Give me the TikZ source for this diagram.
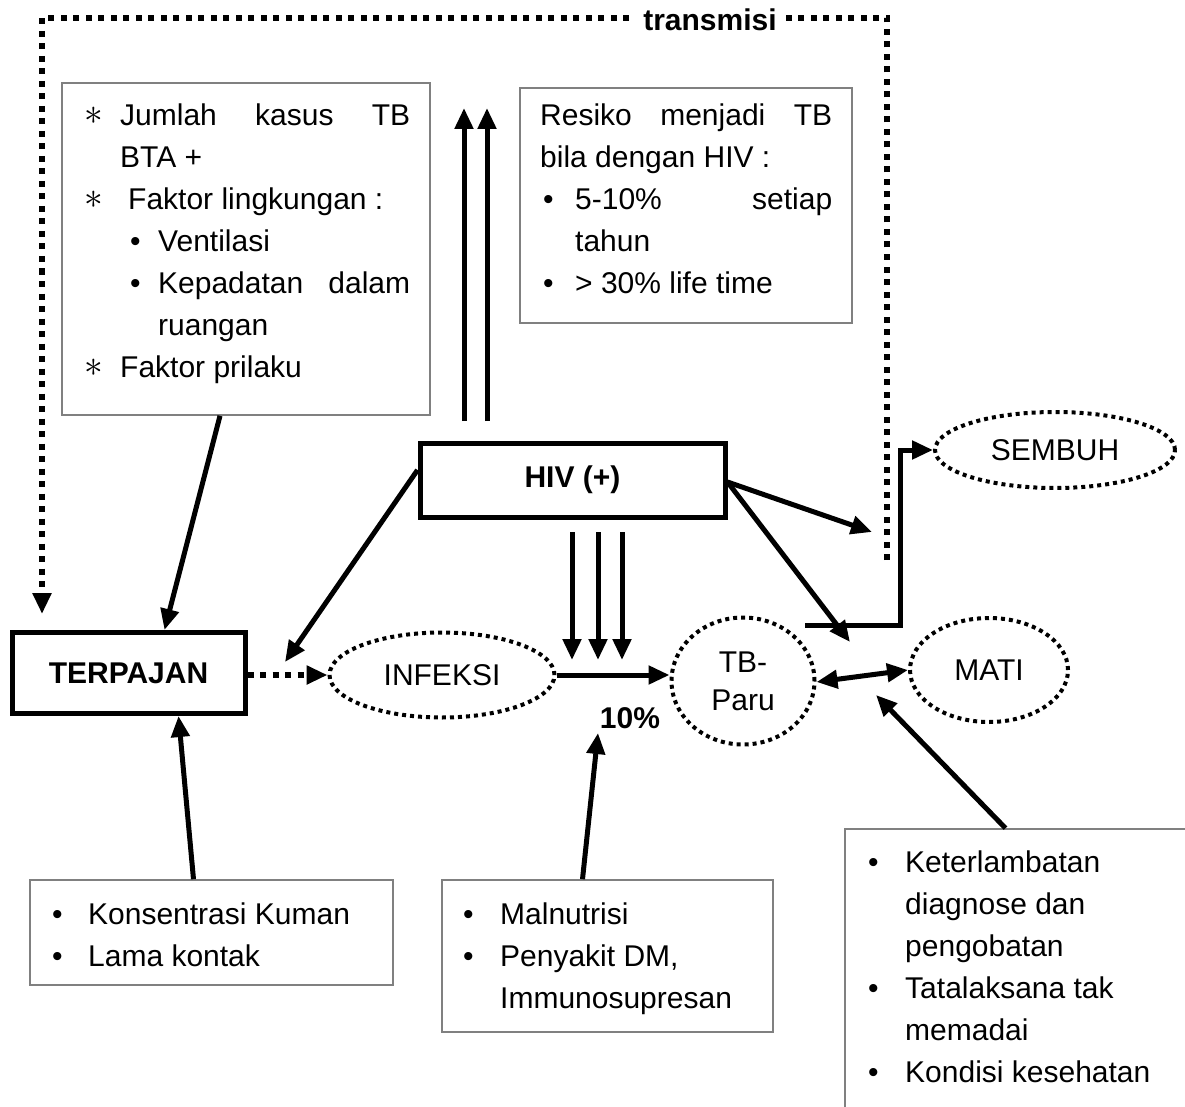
\documentclass[tikz,border=0pt]{standalone}
\usepackage{fontspec}
\setmainfont{Liberation Sans}
\usetikzlibrary{arrows.meta,shapes.geometric}

\newcommand{\astmark}{\raisebox{1pt}{\scalebox{1.5}{$\ast$}}}

\begin{document}
\begin{tikzpicture}[x=1pt,y=-1pt,
  every node/.style={font=\fontsize{30}{42}\selectfont, inner sep=0pt},
  infobox/.style={draw=black!50, line width=1.6pt},
  mainbox/.style={draw, line width=5pt},
  dotell/.style={ellipse, draw, line width=4pt, dash pattern=on 4pt off 4pt},
  txt/.style={anchor=north west, align=left},
  arr/.style={line width=5pt, -{Triangle[length=21pt,width=18pt]}},
  dblarr/.style={line width=5pt, {Triangle[length=21pt,width=18pt]}-{Triangle[length=21pt,width=18pt]}},
  dotarr/.style={line width=6pt, dash pattern=on 6pt off 6.5pt, -{Triangle[length=21pt,width=18pt]}}]
\useasboundingbox (0,0) rectangle (1185,1107);

\node[infobox, minimum width=368pt, minimum height=332pt] (faktor) at (246,249) {};
\node[txt] (faktortxt) at (84,96) {\strut\makebox[36pt][l]{\astmark}\makebox[290pt][s]{Jumlah kasus TB}\\
  \hspace*{36pt}BTA +\\
  \makebox[44pt][l]{\astmark}Faktor lingkungan :\\
  \hspace*{46pt}\makebox[28pt][l]{\textbullet}Ventilasi\\
  \hspace*{46pt}\makebox[28pt][l]{\textbullet}\makebox[252pt][s]{Kepadatan dalam}\\
  \hspace*{74pt}ruangan\\
  \makebox[36pt][l]{\astmark}Faktor prilaku};

\node[infobox, minimum width=332pt, minimum height=235pt] (resiko) at (686,205.5) {};
\node[txt] (resikotxt) at (540,96) {\strut\makebox[292pt][s]{Resiko menjadi TB}\\
  bila dengan HIV :\\
  \makebox[35pt][l]{\hspace*{3pt}\textbullet}\makebox[257pt][s]{5-10\% setiap}\\
  \hspace*{35pt}tahun\\
  \makebox[35pt][l]{\hspace*{3pt}\textbullet}> 30\% life time};

\node[mainbox, minimum width=305pt, minimum height=74pt] (hiv) at (572.5,480) {\textbf{HIV (+)}};
\node[mainbox, minimum width=233pt, minimum height=81pt] (terpajan) at (128.5,673) {\textbf{TERPAJAN}};
\node[dotell, minimum width=225pt, minimum height=85pt] (infeksi) at (442,675) {INFEKSI};
\node[dotell, minimum width=143pt, minimum height=127pt, align=center] (tbparu) at (743,681) {TB-\\[-4pt]Paru};
\node[dotell, minimum width=158pt, minimum height=104pt] (mati) at (989,670) {MATI};
\node[dotell, minimum width=240pt, minimum height=76pt] (sembuh) at (1055,450) {SEMBUH};
\node (pct) at (630,718) {\textbf{10\%}};

\node[infobox, minimum width=363pt, minimum height=105pt] (kuman) at (211.5,932.5) {};
\node[txt] (kumantxt) at (52,895) {\strut\makebox[36pt][l]{\textbullet}Konsentrasi Kuman\\
  \makebox[36pt][l]{\textbullet}Lama kontak};

\node[infobox, minimum width=331pt, minimum height=152pt] (gizi) at (607.5,956) {};
\node[txt] (gizitxt) at (463,895) {\strut\makebox[37pt][l]{\textbullet}Malnutrisi\\
  \makebox[37pt][l]{\textbullet}Penyakit DM,\\
  \hspace*{37pt}Immunosupresan};

\node[infobox, minimum width=355pt, minimum height=291pt] (lambat) at (1022.5,974.5) {};
\node[txt] (lambattxt) at (868,843) {\strut\makebox[37pt][l]{\textbullet}Keterlambatan\\
  \hspace*{37pt}diagnose dan\\
  \hspace*{37pt}pengobatan\\
  \makebox[37pt][l]{\textbullet}Tatalaksana tak\\
  \hspace*{37pt}memadai\\
  \makebox[37pt][l]{\textbullet}Kondisi kesehatan};

\coordinate (up1a) at (464,421); \coordinate (up1b) at (464,108);
\coordinate (up2a) at (487,421); \coordinate (up2b) at (487,108);
\coordinate (dn1a) at (572,532); \coordinate (dn1b) at (572,660);
\coordinate (dn2a) at (598,532); \coordinate (dn2b) at (598,660);
\coordinate (dn3a) at (622,532); \coordinate (dn3b) at (622,660);
\coordinate (hivleft) at (285,662);
\coordinate (hivgap) at (872,532);
\coordinate (hivtb) at (850,642);
\coordinate (gizitop) at (598,733);
\coordinate (lambattop) at (876,695);
\coordinate (tbout) at (805,625);
\coordinate (bend) at (900,625);

\draw[dotarr] (887,560) -- (887,18) -- (42,18) -- (42,614);
\node[fill=white, inner xsep=7pt, inner ysep=2pt] (transmisi) at (710,20) {\textbf{transmisi}};

\draw[arr] (up1a) -- (up1b);
\draw[arr] (up2a) -- (up2b);
\draw[arr] (dn1a) -- (dn1b);
\draw[arr] (dn2a) -- (dn2b);
\draw[arr] (dn3a) -- (dn3b);
\draw[arr] ([xshift=-26pt]faktor.south) -- ([xshift=36pt]terpajan.north);
\draw[arr] ([xshift=-18pt]kuman.north) -- ([xshift=50pt]terpajan.south);
\draw[arr] ([yshift=10pt]hiv.west) -- (hivleft);
\draw[arr] ([yshift=-2pt]hiv.east) -- (hivgap);
\draw[arr] ([yshift=-2pt]hiv.east) -- (hivtb);
\draw[dotarr] (terpajan.east |- infeksi.west) -- (infeksi.west);
\draw[arr] (infeksi.east) -- (infeksi.east -| tbparu.west);
\draw[dblarr] ([yshift=-1pt]tbparu.east) -- (mati.west);
\draw[arr] ([xshift=-25pt]gizi.north) -- (gizitop);
\draw[arr] ([xshift=-17pt]lambat.north) -- (lambattop);
\draw[arr] (tbout) -- (bend) |- (sembuh.west);
\end{tikzpicture}
\end{document}
